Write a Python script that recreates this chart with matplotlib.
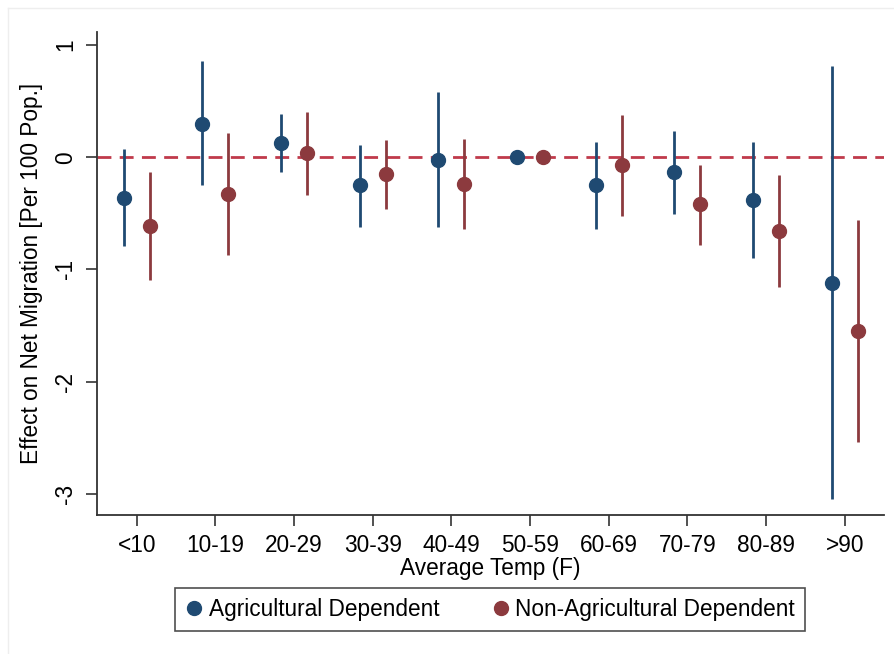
import numpy as np
import matplotlib
matplotlib.use("Agg")
import matplotlib.pyplot as plt
from matplotlib.lines import Line2D

####################################################
categories = ["<10", "10-19", "20-29", "30-39", "40-49",
              "50-59", "60-69", "70-79", "80-89", ">90"]

ag_est = [-0.36, 0.30, 0.13, -0.25, -0.02, 0.0, -0.25, -0.13, -0.38, -1.12]
ag_hi = [0.07, 0.86, 0.39, 0.11, 0.58, 0.0, 0.14, 0.23, 0.14, 0.81]
ag_lo = [-0.79, -0.25, -0.13, -0.62, -0.62, 0.0, -0.64, -0.51, -0.90, -3.05]

nonag_est = [-0.61, -0.33, 0.04, -0.15, -0.24, 0.0, -0.07, -0.42, -0.66, -1.55]
nonag_hi = [-0.13, 0.22, 0.40, 0.15, 0.16, 0.0, 0.38, -0.07, -0.16, -0.56]
nonag_lo = [-1.09, -0.87, -0.34, -0.46, -0.64, 0.0, -0.52, -0.78, -1.16, -2.54]

y_ticks = [1, 0, -1, -2, -3]
####################################################

navy = "#1f4a72"
maroon = "#8c3a3e"
refline = "#c03a4b"
fs = 16.3

plt.rcParams["font.family"] = ["Liberation Sans", "DejaVu Sans"]

fig = plt.figure(figsize=(8.94, 6.54), dpi=100)
ax = fig.add_axes([96.7 / 894, 1 - 515 / 654, (884 - 96.7) / 894, (515 - 31.7) / 654])

x = np.arange(len(categories))
off = 0.165

ax.axhline(0, color=refline, lw=2, dashes=(5, 3), zorder=1)

ax.vlines(x - off, ag_lo, ag_hi, color=navy, lw=2, zorder=2)
ax.plot(x - off, ag_est, "o", color=navy, ms=10, zorder=3)
ax.vlines(x + off, nonag_lo, nonag_hi, color=maroon, lw=2, zorder=2)
ax.plot(x + off, nonag_est, "o", color=maroon, ms=10, zorder=3)

ax.set_xlim(-0.51, 9.5)
ax.set_ylim(-3.19, 1.12)
ax.set_xticks(x)
ax.set_xticklabels(categories)
ax.set_yticks(y_ticks)
ax.set_yticklabels([str(t) for t in y_ticks], rotation=90, va="center")

for s in ["top", "right"]:
    ax.spines[s].set_visible(False)
for s in ["left", "bottom"]:
    ax.spines[s].set_color("#333333")
    ax.spines[s].set_linewidth(1.3)

ax.tick_params(axis="both", labelsize=fs, length=8, width=1.2, color="#333333", pad=6)
ax.set_xlabel("Average Temp (F)", fontsize=fs, labelpad=0)
ax.set_ylabel("Effect on Net Migration [Per 100 Pop.]", fontsize=fs, labelpad=8)

handles = [
    Line2D([], [], ls="none", marker="o", color=navy, ms=10, label="Agricultural Dependent"),
    Line2D([], [], ls="none", marker="o", color=maroon, ms=10, label="Non-Agricultural Dependent"),
]
leg = fig.legend(handles=handles, loc="center", ncol=2, fontsize=fs,
                 bbox_to_anchor=(490 / 894, 1 - 609.5 / 654), frameon=True,
                 fancybox=False, edgecolor="#222222", handletextpad=0.25,
                 columnspacing=2.3, handlelength=0.8, borderpad=0.45,
                 borderaxespad=0)
leg.get_frame().set_linewidth(1.2)

# faint outer graph region border
fig.add_artist(Line2D([8 / 894, 8 / 894], [0, 1 - 8 / 654], transform=fig.transFigure,
                      color="#eeeeee", lw=1))
fig.add_artist(Line2D([8 / 894, 1], [1 - 8 / 654, 1 - 8 / 654], transform=fig.transFigure,
                      color="#eeeeee", lw=1))

fig.savefig("out.png", dpi=100)
